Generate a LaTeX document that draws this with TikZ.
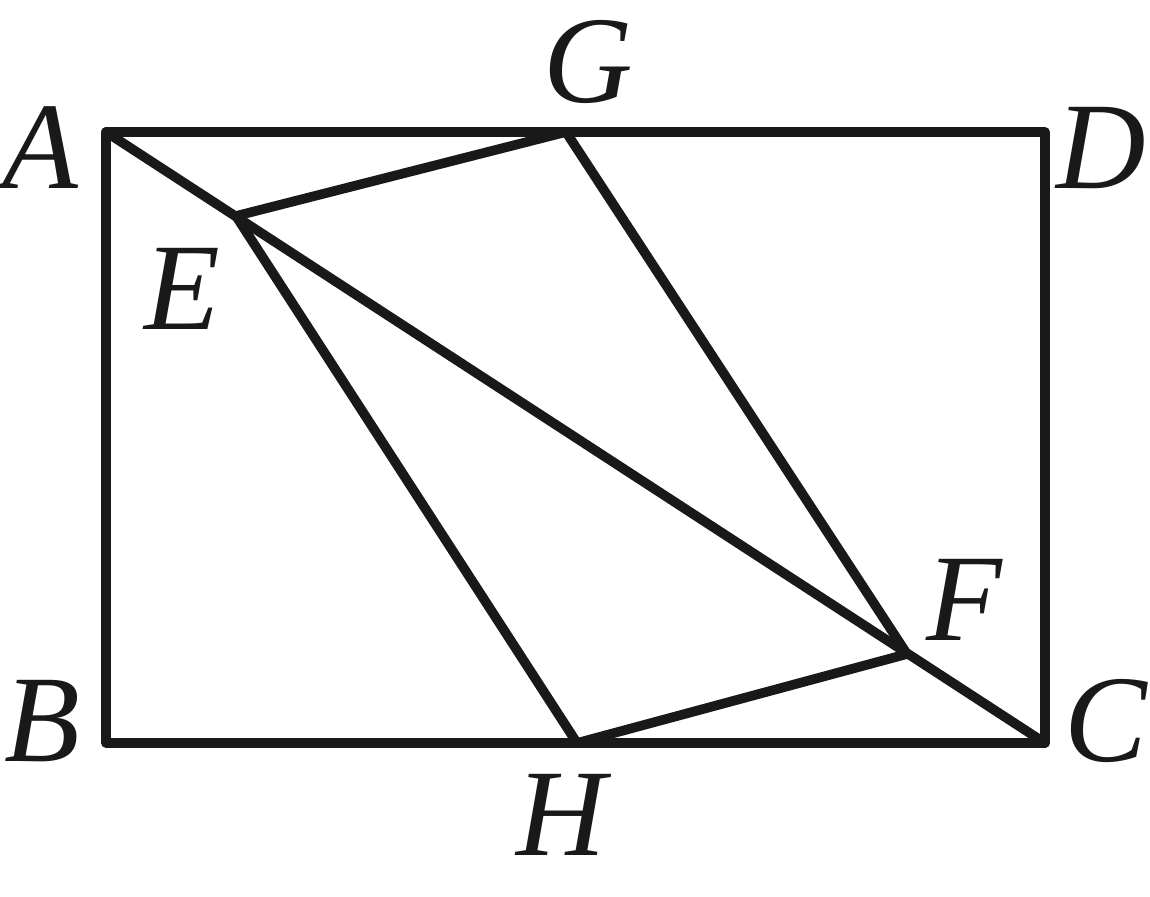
\documentclass[tikz,border=0pt]{standalone}
\usepackage{fontspec}
\newfontfamily\lblfont{LiberationSerif-Italic.ttf}
\begin{document}
\begin{tikzpicture}[x=0.5pt,y=-0.5pt,
  edge/.style={line width=4.8pt,line join=round,line cap=round,color=black!90},
  lbl/.style={inner sep=0pt,font=\fontsize{62}{62}\lblfont,text=black!90}]
\useasboundingbox (0,0) rectangle (1150,896);
\coordinate (A) at (106,132);
\coordinate (D) at (1045,132);
\coordinate (B) at (106,743);
\coordinate (C) at (1045,743);
\coordinate (G) at (566,132);
\coordinate (H) at (577,743);
\coordinate (E) at (236,216);
\coordinate (F) at (907,654);
\draw[edge] (A) -- (D) -- (C) -- (B) -- cycle;
\draw[edge] (A) -- (C);
\draw[edge] (E) -- (G) -- (F) -- (H) -- cycle;
\node[lbl] (lA) at (40,148) {A};
\node[lbl] (lD) at (1101,148) {D};
\node[lbl] (lB) at (42,721) {B};
\node[lbl] (lC) at (1106,721) {C};
\node[lbl] (lG) at (588,62) {G};
\node[lbl] (lH) at (561,815) {H};
\node[lbl] (lE) at (182,289) {E};
\node[lbl] (lF) at (964,600) {F};
\end{tikzpicture}
\end{document}
